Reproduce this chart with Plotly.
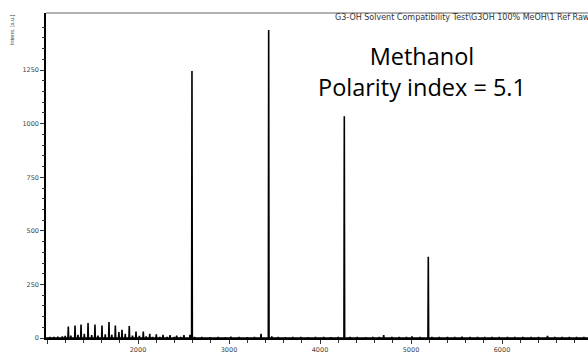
import plotly.graph_objects as go

# --- spectrum data (m/z, intensity in a.u.) ---
major_mz = [2593, 3436, 4267, 5190]
major_int = [1245, 1437, 1035, 379]

cluster_mz = [1234, 1308, 1374, 1451, 1527, 1604, 1681, 1751, 1824, 1904,
              1978, 2058, 2129, 2201, 2275, 2352, 2425, 2505, 2571]
cluster_int = [54, 59, 64, 71, 64, 59, 75, 59, 39, 56,
               31, 31, 20, 18, 15, 14, 12, 14, 15]

minor_mz = [1030, 1075, 1120, 1168, 1200, 1262, 1340, 1410, 1491, 1560,
            1640, 1712, 1790, 1860, 1940, 2015, 2090, 2160, 2240, 2320,
            2400, 2470, 2620, 2700, 2790, 2880, 2960, 3020, 3110, 3200,
            3280, 3352, 3470, 3540, 3620, 3700, 3790, 3870, 3950, 4040,
            4120, 4200, 4330, 4410, 4500, 4580, 4650, 4700, 4790, 4870,
            4950, 5010, 5100, 5230, 5310, 5400, 5480, 5560, 5650, 5730,
            5810, 5890, 5970, 6060, 6140, 6230, 6320, 6400, 6500, 6580,
            6660, 6740, 6820, 6900]
minor_int = [6, 5, 7, 8, 10, 12, 15, 20, 14, 12,
             18, 16, 28, 20, 12, 10, 8, 6, 6, 5,
             5, 6, 5, 6, 4, 5, 4, 7, 5, 4,
             5, 20, 8, 5, 4, 6, 5, 4, 6, 5,
             4, 5, 6, 5, 4, 6, 5, 14, 5, 6,
             5, 8, 5, 6, 5, 6, 5, 7, 5, 6,
             5, 6, 6, 5, 6, 5, 6, 5, 10, 6,
             5, 6, 5, 6]

x_tick_vals = [1000, 2000, 3000, 4000, 5000, 6000]
x_tick_text = ["", "2000", "3000", "4000", "5000", "6000"]
y_tick_vals = [0, 250, 500, 750, 1000, 1250]

title_text = "G3-OH Solvent Compatibility Test\\G3OH 100% MeOH\\1 Ref Raw"
solvent_text = "Methanol"
polarity_text = "Polarity index = 5.1"

# --- build a stick-style profile trace from all peaks ---
peaks = sorted(zip(major_mz + cluster_mz + minor_mz,
                   major_int + cluster_int + minor_int))
half_w = 4
xs, ys = [990], [0]
for mz, h in peaks:
    xs += [mz - half_w, mz, mz + half_w]
    ys += [0, h, 0]
xs.append(6950)
ys.append(0)

# minor tick positions between the labelled ticks
x_minor = [v for v in range(1000, 7000, 200) if v % 1000]
y_minor = [v for v in range(0, 1550, 50) if v % 250]

X_RANGE = [989, 6945]
Y_RANGE = [-4, 1516]

W, H = 588, 354
L, R, T, B = 46, 0, 13, 15


def px_x(p):
    return (p - L) / (W - L - R)


def px_y(p):
    return (H - B - p) / (H - T - B)


fig = go.Figure()
fig.add_trace(go.Scatter(x=xs, y=ys, mode="lines",
                         line=dict(color="black", width=1.6),
                         hoverinfo="skip", showlegend=False))
# invisible trace anchoring the overlay axes that carry the minor ticks
fig.add_trace(go.Scatter(x=[X_RANGE[0]], y=[Y_RANGE[0]], mode="markers",
                         marker=dict(opacity=0), xaxis="x2", yaxis="y2",
                         hoverinfo="skip", showlegend=False))

tick_font = dict(family="DejaVu Sans", size=6.5, color="#444")

fig.update_layout(
    width=W, height=H,
    margin=dict(l=L, r=R, t=T, b=B, pad=0),
    paper_bgcolor="white", plot_bgcolor="white",
    xaxis=dict(range=X_RANGE, showgrid=False, zeroline=False,
               showline=True, linecolor="black", linewidth=1.2,
               tickmode="array", tickvals=x_tick_vals, ticktext=x_tick_text,
               ticks="outside", ticklen=4, tickcolor="#333", tickwidth=1,
               tickfont=tick_font),
    yaxis=dict(range=Y_RANGE, showgrid=False, zeroline=False,
               showline=True, linecolor="black", linewidth=1.5,
               tickmode="array", tickvals=y_tick_vals,
               ticks="outside", ticklen=4, tickcolor="#333", tickwidth=1,
               tickfont=tick_font),
    xaxis2=dict(range=X_RANGE, overlaying="x", anchor="y2", side="bottom",
                showgrid=False, zeroline=False, showline=False,
                tickmode="array", tickvals=x_minor, showticklabels=False,
                ticks="outside", ticklen=3, tickcolor="#333", tickwidth=1),
    yaxis2=dict(range=Y_RANGE, overlaying="y", anchor="x2", side="left",
                showgrid=False, zeroline=False, showline=False,
                tickmode="array", tickvals=y_minor, showticklabels=False,
                ticks="outside", ticklen=3, tickcolor="#333", tickwidth=1),
    shapes=[dict(type="line", xref="paper", yref="paper",
                 x0=0, x1=1, y0=1, y1=1,
                 line=dict(color="#999", width=1.5))],
    annotations=[
        dict(text=title_text, xref="paper", yref="paper",
             x=px_x(333), y=px_y(17), xanchor="left", yanchor="middle",
             showarrow=False,
             font=dict(family="DejaVu Sans", size=8, color="#333")),
        dict(text="Intens. [a.u.]", xref="paper", yref="paper",
             x=px_x(12), y=px_y(30), xanchor="center", yanchor="middle",
             textangle=-90, showarrow=False,
             font=dict(family="Liberation Sans", size=5.5, color="#444")),
        dict(text=solvent_text + "<br>" + polarity_text,
             xref="paper", yref="paper",
             x=px_x(422), y=px_y(71), xanchor="center", yanchor="middle",
             align="center", showarrow=False,
             font=dict(family="Open Sans", size=23.5, color="black")),
    ],
)

fig.write_html("out.html")
